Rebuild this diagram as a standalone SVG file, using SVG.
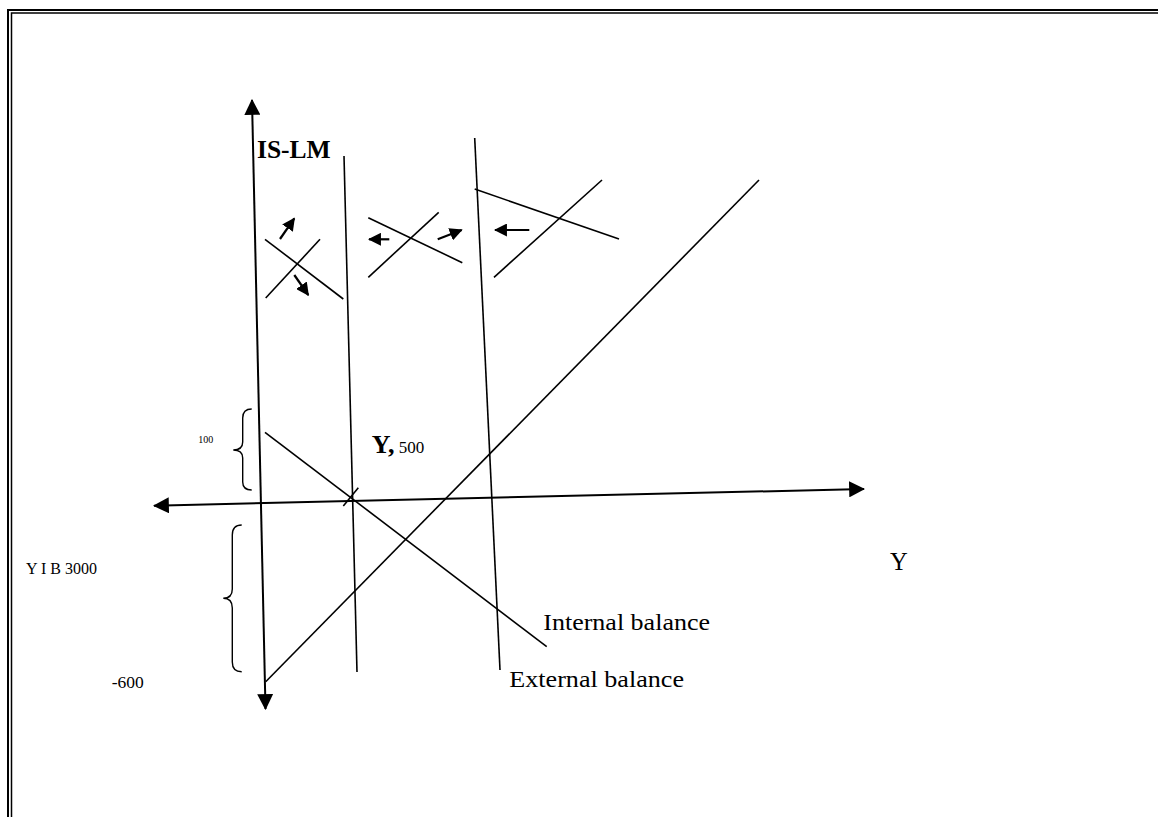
<svg xmlns="http://www.w3.org/2000/svg" width="1158" height="817" viewBox="0 0 1158 817">
<style>
.ln{stroke:#000;stroke-width:1.6;fill:none}
.ax{stroke:#000;stroke-width:2;fill:none}
.sa{stroke:#000;stroke-width:2.2;fill:none}
.br{stroke:#000;stroke-width:1.4;fill:none}
text{font-family:"Liberation Serif","Times New Roman",serif;fill:#000}
.b{font-weight:bold}
</style>
<defs>
<marker id="axh" markerUnits="userSpaceOnUse" markerWidth="16" markerHeight="16" viewBox="0 0 14 14" refX="13" refY="7" orient="auto-start-reverse">
<path d="M0,0 L14,7 L0,14 z" fill="#000"/>
</marker>
<marker id="sh" markerUnits="userSpaceOnUse" markerWidth="13" markerHeight="13" viewBox="0 0 12 12" refX="11" refY="6" orient="auto">
<path d="M0,0 L12,6 L0,12 z" fill="#000"/>
</marker>
</defs>
<rect width="1158" height="817" fill="#fff"/>
<g id="border">
<path d="M8,817 V10 H1158" stroke="#000" stroke-width="2" fill="none"/>
<path d="M11.5,817 V13 H1158" stroke="#000" stroke-width="1.5" fill="none"/>
</g>
<g id="connectors">
<line id="y-axis" class="ax" x1="252" y1="100" x2="265.5" y2="709" marker-start="url(#axh)" marker-end="url(#axh)"/>
<line id="x-axis" class="ax" x1="154" y1="505.7" x2="864" y2="489" marker-start="url(#axh)" marker-end="url(#axh)"/>
<line class="ln" x1="344" y1="156" x2="357" y2="672"/>
<line class="ln" x1="474.7" y1="138" x2="500" y2="670"/>
<line class="ln" x1="265" y1="432.3" x2="546.7" y2="646.7"/>
<line class="ln" x1="265.7" y1="681.7" x2="759" y2="180"/>
<line class="ln" x1="343.3" y1="506" x2="358.3" y2="487.7"/>
</g>
<g id="cross1">
<line class="ln" x1="265" y1="239.3" x2="343.3" y2="299"/>
<line class="ln" x1="265.7" y1="298" x2="320" y2="239.3"/>
<line class="sa" x1="280" y1="239" x2="294.3" y2="218.3" marker-end="url(#sh)"/>
<line class="sa" x1="294.3" y1="275" x2="308.3" y2="295" marker-end="url(#sh)"/>
</g>
<g id="cross2">
<line class="ln" x1="368.3" y1="217.7" x2="462.3" y2="262.7"/>
<line class="ln" x1="368.3" y1="277.3" x2="438.7" y2="212.3"/>
<line class="sa" x1="389.3" y1="239.3" x2="369" y2="239.3" marker-end="url(#sh)"/>
<line class="sa" x1="437.7" y1="239.3" x2="461.7" y2="230" marker-end="url(#sh)"/>
</g>
<g id="cross3">
<line class="ln" x1="474.7" y1="189" x2="619" y2="239"/>
<line class="ln" x1="494" y1="277.3" x2="602" y2="180"/>
<line class="sa" x1="529.3" y1="230" x2="495" y2="230" marker-end="url(#sh)"/>
</g>
<g id="braces">
<path class="br" d="M251.7,409 Q242.7,409 242.7,418 L242.7,442 Q242.7,450 233.3,450 Q242.7,450 242.7,458 L242.7,482 Q242.7,490 251.7,490"/>
<path class="br" d="M241.7,525 Q232.3,525 232.3,535 L232.3,589 Q232.3,598.3 223.3,598.3 Q232.3,598.3 232.3,608 L232.3,662 Q232.3,671.7 241.7,671.7"/>
</g>
<g id="labels">
<text id="islm" class="b" x="257" y="158" font-size="25.5">IS-LM</text>
<text id="y500" x="371.7" y="453.3"><tspan class="b" font-size="26">Y,</tspan><tspan font-size="17"> 500</tspan></text>
<text id="l100" x="198.3" y="443.3" font-size="10">100</text>
<text id="yib" x="26" y="574" font-size="16">Y I B 3000</text>
<text id="m600" x="111.7" y="688.3" font-size="17.5">-600</text>
<text id="yright" x="890" y="570" font-size="24.5">Y</text>
<text id="internal" x="543.3" y="630" font-size="23" textLength="166.7" lengthAdjust="spacingAndGlyphs">Internal balance</text>
<text id="external" x="509.3" y="687.3" font-size="23" textLength="174.7" lengthAdjust="spacingAndGlyphs">External balance</text>
</g>
</svg>
